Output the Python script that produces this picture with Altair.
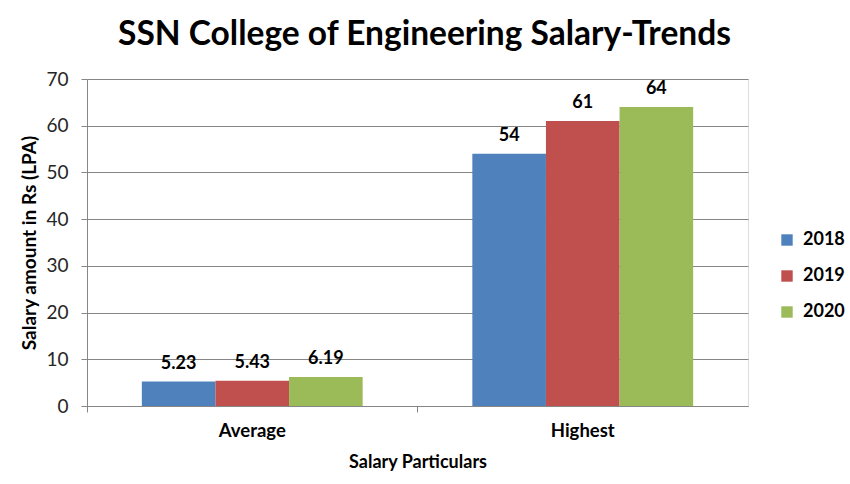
import altair as alt
import pandas as pd

categories = ["Average", "Highest"]
years = ["2018", "2019", "2020"]
values_2018 = [5.23, 54]
values_2019 = [5.43, 61]
values_2020 = [6.19, 64]
colors = ["#4F81BD", "#C0504D", "#9BBB59"]
y_ticks = [0, 10, 20, 30, 40, 50, 60, 70]

rows = []
for yr, vals in zip(years, [values_2018, values_2019, values_2020]):
    for c, v in zip(categories, vals):
        rows.append({"cat": c, "year": yr, "val": v})
df = pd.DataFrame(rows)

FONT = "Lato"

base = alt.Chart(df).encode(
    x=alt.X("cat:N", title="Salary Particulars", sort=categories,
            scale=alt.Scale(paddingInner=0, paddingOuter=0),
            axis=alt.Axis(labelAngle=0, bandPosition=0, labelFontSize=18.5, labelFontWeight="bold",
                          labelColor="#000", titleFontSize=18, titleFontWeight="bold",
                          titleColor="#000", titlePadding=14, labelPadding=9,
                          domainColor="#868686", tickColor="#868686", tickSize=6,
                          labelFont=FONT, titleFont=FONT)),
    xOffset=alt.XOffset("year:N", sort=years,
                        scale=alt.Scale(paddingInner=0, paddingOuter=0.745)),
)

bars = base.mark_bar().encode(
    y=alt.Y("val:Q", title="Salary amount in Rs (LPA)",
            scale=alt.Scale(domain=[0, 70], nice=False),
            axis=alt.Axis(values=y_ticks, labelFontSize=19, labelColor="#262626",
                          titleFontSize=19, titleFontWeight="bold", titleColor="#000",
                          gridColor="#868686", domainColor="#868686", tickColor="#868686",
                          tickSize=6, labelPadding=13, titlePadding=6,
                          labelFont=FONT, titleFont=FONT)),
    color=alt.Color("year:N", sort=years,
                    scale=alt.Scale(domain=years, range=colors),
                    legend=alt.Legend(title=None, orient="none", legendX=691, legendY=152,
                                      symbolType="square", symbolSize=130,
                                      symbolStrokeWidth=0, labelFontSize=18,
                                      labelFontWeight="bold", labelColor="#000",
                                      rowPadding=18, labelFont=FONT, labelOffset=7)),
)

labels = base.mark_text(baseline="bottom", dy=-9, fontSize=18, fontWeight="bold",
                        font=FONT, color="#000").encode(
    y="val:Q",
    text=alt.Text("val:Q"),
)

chart = (bars + labels).properties(
    width=661, height=327,
    title=alt.TitleParams("SSN College of Engineering Salary-Trends", fontSize=33.5,
                          fontWeight="bold", font=FONT, color="#000", offset=18,
                          anchor="middle", dx=7),
    autosize=alt.AutoSizeParams(type="none"),
    padding={"left": 87, "top": 79, "right": 102, "bottom": 78},
).configure_view(stroke=None).configure(background="white")

chart.save("out.html", embed_options={"renderer": "svg", "actions": False})
